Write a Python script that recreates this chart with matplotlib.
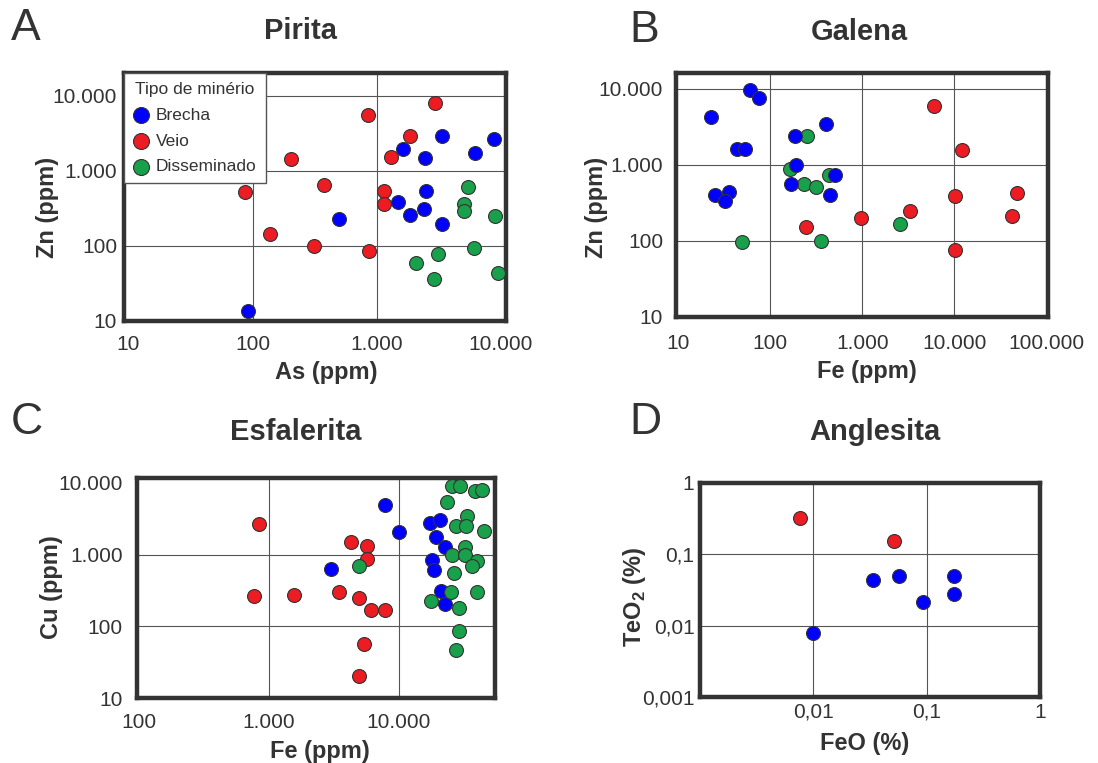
import matplotlib
matplotlib.use("Agg")
import matplotlib.pyplot as plt

plt.rcParams['font.family'] = ['Liberation Sans', 'DejaVu Sans']
plt.rcParams['mathtext.fontset'] = 'custom'
plt.rcParams['mathtext.rm'] = 'Liberation Sans'
plt.rcParams['mathtext.bf'] = 'Liberation Sans:bold'

TXT = '#333333'
GRID = '#555555'
BLUE = '#0000ff'
RED = '#ec1c22'
GREEN = '#19a04b'

# --- A: Pirita (As x Zn, ppm)
pir_brecha_as = [91, 495, 1640, 2430, 3350, 6190, 8850, 2480, 1490, 2390, 1870, 3370]
pir_brecha_zn = [13.6, 227, 1970, 1470, 2860, 1720, 2660, 530, 382, 305, 254, 196]
pir_veio_as = [2970, 847, 1840, 1300, 202, 87, 376, 1140, 1150, 139, 312, 868]
pir_veio_zn = [7930, 5520, 2860, 1510, 1440, 520, 650, 541, 359, 142, 100, 86]
pir_diss_as = [5410, 5050, 5050, 9030, 6040, 3100, 2080, 2890, 9570]
pir_diss_zn = [600, 363, 287, 251, 95, 78, 60, 36, 43]

# --- B: Galena (Fe x Zn, ppm)
gal_brecha_fe = [61, 76, 23, 44, 54, 185, 404, 191, 168, 25, 35.5, 32.6, 506, 445]
gal_brecha_zn = [9510, 7550, 4190, 1600, 1600, 2415, 3460, 1000, 553, 402, 444, 336, 726, 398]
gal_diss_fe = [253, 166, 235, 312, 433, 49, 356, 2560]
gal_diss_zn = [2415, 869, 553, 511, 726, 96, 101, 165]
gal_veio_fe = [6070, 12190, 10090, 48100, 42200, 3340, 975, 243, 10090]
gal_veio_zn = [6000, 1553, 386, 431, 212, 249, 198, 151, 77]

# --- C: Esfalerita (Fe x Cu, ppm)
esf_veio_fe = [833, 760, 1560, 3470, 4900, 4290, 5710, 5680, 6110, 7800, 5410, 4900]
esf_veio_cu = [2670, 264, 276, 297, 250, 1480, 1330, 880, 170, 170, 56, 20]
esf_brecha_fe = [2980, 7800, 10000, 17300, 20900, 19500, 22900, 17900, 18600, 21300, 22600]
esf_brecha_cu = [632, 4990, 2090, 2770, 3050, 1750, 1270, 851, 618, 307, 205]
esf_diss_fe = [4970, 25900, 29900, 38500, 44200, 23700, 33400, 27700, 33000, 45500, 32500,
               25600, 32500, 40000, 37000, 26500, 25200, 40000, 17700, 29000, 29000, 27600]
esf_diss_cu = [703, 9180, 9180, 7820, 7980, 5370, 3430, 2490, 2540, 2140, 1270,
               990, 990, 825, 688, 561, 305, 305, 223, 180, 87, 47]

# --- D: Anglesita (FeO x TeO2, %)
ang_veio_feo = [0.0076, 0.052]
ang_veio_teo2 = [0.32, 0.153]
ang_brecha_feo = [0.010, 0.0335, 0.057, 0.093, 0.176, 0.176]
ang_brecha_teo2 = [0.0079, 0.043, 0.049, 0.0214, 0.049, 0.0275]

ppm_ticks = [10, 100, 1000, 10000, 100000]
ppm_labels = ['10', '100', '1.000', '10.000', '100.000']
pct_ticks = [0.001, 0.01, 0.1, 1]
pct_labels = ['0,001', '0,01', '0,1', '1']

W, H = 1098, 763
fig = plt.figure(figsize=(W / 100, H / 100), dpi=100)


def panel(px, xlim, ylim, xticks, xlabels, yticks, ylabels, xgrid, ygrid, xpad, ypad):
    l, t, r, b = px
    ax = fig.add_axes([l / W, 1 - b / H, (r - l) / W, (b - t) / H])
    ax.set_xscale('log')
    ax.set_yscale('log')
    ax.set_xlim(xlim)
    ax.set_ylim(ylim)
    ax.set_xticks(xticks, xlabels)
    ax.set_yticks(yticks, ylabels)
    ax.minorticks_off()
    ax.tick_params(length=0, labelsize=15, labelcolor=TXT)
    ax.tick_params(axis='x', pad=xpad)
    ax.tick_params(axis='y', pad=ypad)
    for v in xgrid:
        ax.axvline(v, color=GRID, lw=0.8, zorder=0.5)
    for v in ygrid:
        ax.axhline(v, color=GRID, lw=0.8, zorder=0.5)
    for s in ax.spines.values():
        s.set_linewidth(3.2)
        s.set_color('#333333')
    return ax


def labels(ax, xl, yl, xpos, ypos):
    ax.set_xlabel(xl, fontsize=17, fontweight='bold', color=TXT)
    ax.set_ylabel(yl, fontsize=17, fontweight='bold', color=TXT)
    ax.xaxis.set_label_coords(*xpos)
    ax.yaxis.set_label_coords(*ypos)
    ax.xaxis.label.set_va('center')
    ax.yaxis.label.set_va('center')


mk = dict(s=100, edgecolors='#333333', linewidths=0.8, zorder=3)

# A
axA = panel((124, 73, 506, 321), (9.2, 11000), (10, 20000), ppm_ticks[:4], ppm_labels[:4],
            ppm_ticks[:4], ppm_labels[:4], [100, 1000], [100, 1000, 10000], 10, 5)
axA.scatter(pir_brecha_as, pir_brecha_zn, color=BLUE, label='Brecha', **mk)
axA.scatter(pir_veio_as, pir_veio_zn, color=RED, label='Veio', **mk)
axA.scatter(pir_diss_as, pir_diss_zn, color=GREEN, label='Disseminado', **mk)
labels(axA, 'As (ppm)', 'Zn (ppm)', (0.529, -0.206), (-0.199, 0.457))
leg = axA.legend(title='Tipo de minério', loc='upper left', bbox_to_anchor=(0, 1),
                 borderaxespad=0, fontsize=12.5, title_fontsize=12.5, frameon=True,
                 fancybox=False, edgecolor='#555555', framealpha=1, scatterpoints=1,
                 handletextpad=0.35, labelspacing=0.62, borderpad=0.5, handlelength=1.0,
                 markerscale=1.15)
leg.get_frame().set_linewidth(1)
for t in leg.get_texts():
    t.set_color(TXT)
leg.get_title().set_color(TXT)

# B
axB = panel((675.5, 73, 1048, 317), (9.4, 104000), (10.5, 16100), ppm_ticks, ppm_labels,
            ppm_ticks[:4], ppm_labels[:4], [100, 1000, 10000], [100, 1000, 10000], 12, 9)
axB.scatter(gal_diss_fe, gal_diss_zn, color=GREEN, **mk)
axB.scatter(gal_brecha_fe, gal_brecha_zn, color=BLUE, **mk)
axB.scatter(gal_veio_fe, gal_veio_zn, color=RED, **mk)
labels(axB, 'Fe (ppm)', 'Zn (ppm)', (0.514, -0.223), (-0.211, 0.448))

# C
axC = panel((136.7, 478, 495, 698), (95.5, 55200), (10.3, 11700), ppm_ticks[1:4], ppm_labels[1:4],
            ppm_ticks[:4], ppm_labels[:4], [1000, 10000], [100, 1000], 11, 10)
axC.scatter(esf_veio_fe, esf_veio_cu, color=RED, **mk)
axC.scatter(esf_brecha_fe, esf_brecha_cu, color=BLUE, **mk)
axC.scatter(esf_diss_fe, esf_diss_cu, color=GREEN, **mk)
labels(axC, 'Fe (ppm)', 'Cu (ppm)', (0.512, -0.244), (-0.239, 0.502))

# D
axD = panel((700, 482.7, 1040, 697), (0.001, 1), (0.001, 1), pct_ticks[1:], pct_labels[1:],
            pct_ticks, pct_labels, [0.01, 0.1], [0.01, 0.1], 4, 4)
axD.scatter(ang_veio_feo, ang_veio_teo2, color=RED, **mk)
axD.scatter(ang_brecha_feo, ang_brecha_teo2, color=BLUE, **mk)
labels(axD, 'FeO (%)', r'TeO$_\mathregular{2}$ (%)', (0.485, -0.215), (-0.194, 0.467))

# titles and panel letters
for x, y, s in [(300, 31, 'Pirita'), (859, 32, 'Galena'), (296, 432, 'Esfalerita'), (875, 432, 'Anglesita')]:
    fig.text(x / W, 1 - y / H, s, ha='center', va='center', fontsize=21, fontweight='bold', color=TXT)
for x, y, s in [(26, 28, 'A'), (644, 30, 'B'), (27, 422, 'C'), (645, 422, 'D')]:
    fig.text(x / W, 1 - y / H, s, ha='center', va='center', fontsize=32, color=TXT)

fig.savefig('out.png', dpi=100)
